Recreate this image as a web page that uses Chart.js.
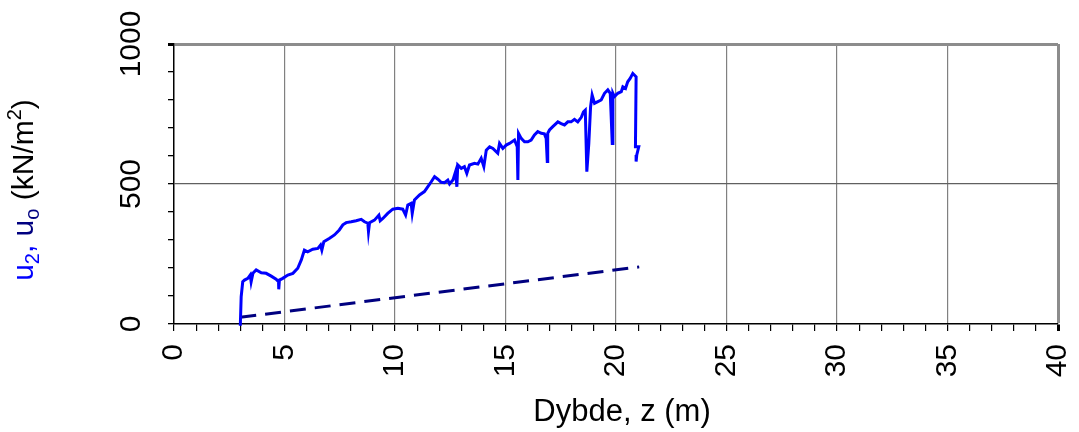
<!DOCTYPE html>
<html>
<head>
<meta charset="utf-8">
<script src="https://cdn.jsdelivr.net/npm/chart.js@4/dist/chart.umd.min.js"></script>
<style>
  html, body { margin: 0; padding: 0; background: #fff; }
  #wrap { width: 1079px; height: 432px; }
</style>
</head>
<body>
<div id="wrap"><canvas id="chart" width="1079" height="432"></canvas></div>
<script>
// measured u2 (solid blue) - depth in m, pressure in kN/m2
const u2Depth = [3.00, 3.04, 3.11, 3.19, 3.34, 3.45, 3.49, 3.57, 3.72, 3.95, 4.17, 4.40, 4.62, 4.73, 4.74, 4.77, 4.92, 5.15, 5.38, 5.60,
  5.76, 5.90, 6.05, 6.28, 6.51, 6.63, 6.69, 6.78, 7.04, 7.26, 7.48, 7.64, 7.79, 8.02, 8.24, 8.47, 8.62, 8.77, 8.80, 8.85,
  9.07, 9.27, 9.33, 9.45, 9.67, 9.90, 10.13, 10.35, 10.48, 10.58, 10.73, 10.78, 10.88, 11.11, 11.33, 11.48, 11.64, 11.79, 11.94, 12.09,
  12.24, 12.39, 12.47, 12.62, 12.74, 12.80, 12.84, 13.00, 13.14, 13.25, 13.37, 13.60, 13.75, 13.90, 14.02, 14.13, 14.28, 14.43, 14.65, 14.73,
  14.88, 15.03, 15.18, 15.41, 15.53, 15.56, 15.59, 15.71, 15.86, 16.01, 16.16, 16.31, 16.46, 16.62, 16.76, 16.84, 16.89, 16.91, 16.99, 17.14,
  17.37, 17.52, 17.67, 17.82, 17.97, 18.12, 18.27, 18.43, 18.53, 18.61, 18.68, 18.77, 18.85, 18.92, 19.03, 19.18, 19.33, 19.48, 19.63, 19.74,
  19.83, 19.86, 19.93, 20.08, 20.24, 20.31, 20.43, 20.53, 20.64, 20.76, 20.91, 20.88, 21.03, 20.94, 20.91];
const u2Pressure = [-6, 98, 151, 157, 163, 175, 151, 181, 193, 183, 181, 171, 160, 151, 124, 157, 163, 175, 181, 199,
  229, 264, 258, 267, 270, 282, 264, 294, 306, 318, 336, 354, 362, 365, 369, 374, 365, 360, 330, 362,
  371, 389, 369, 377, 395, 410, 413, 410, 389, 425, 431, 395, 443, 461, 473, 490, 508, 526, 517, 506,
  505, 514, 500, 514, 544, 490, 568, 556, 562, 538, 568, 574, 571, 592, 562, 621, 633, 627, 610, 645,
  627, 639, 645, 657, 633, 514, 681, 663, 651, 651, 657, 675, 687, 681, 679, 663, 580, 681, 693, 705,
  722, 716, 711, 722, 722, 731, 722, 738, 758, 764, 544, 645, 776, 818, 788, 794, 800, 824, 836, 824,
  645, 824, 812, 824, 830, 847, 841, 865, 877, 895, 883, 633, 633, 604, 580];

// hydrostatic u0 (dashed navy)
const u0Depth = [3.0, 21.05];
const u0Pressure = [24, 204];

const yMajor = [0, 500, 1000];

const FONT = "'Liberation Sans', Arial, sans-serif";

function toPoints(xs, ys) {
    return xs.map((x, i) => ({ x: x, y: ys[i] }));
}

// y tick labels, axis titles (rotated / sub- and superscripts)
const textPlugin = {
    id: 'textPlugin',
    afterDraw(chart) {
        const ctx = chart.ctx;
        const ys = chart.scales.y;
        const xs = chart.scales.x;
        ctx.save();
        ctx.fillStyle = '#000';
        ctx.font = '30px ' + FONT;
        yMajor.forEach(v => {
            ctx.save();
            ctx.translate(140, ys.getPixelForValue(v));
            ctx.rotate(-Math.PI / 2);
            ctx.textAlign = 'center';
            ctx.textBaseline = 'alphabetic';
            ctx.fillText(String(v), 0, 0);
            ctx.restore();
        });

        // x title
        ctx.font = '31px ' + FONT;
        ctx.textAlign = 'center';
        ctx.textBaseline = 'alphabetic';
        ctx.fillText('Dybde, z (m)', (xs.left + xs.right) / 2 + 6, 421);

        // y title with sub/superscripts
        const parts = [
            { t: 'u', c: '#0000ff', s: 30, dy: 0 },
            { t: '2', c: '#0000ff', s: 20, dy: 6 },
            { t: ', ', c: '#0000ff', s: 30, dy: 0 },
            { t: 'u', c: '#000080', s: 30, dy: 0 },
            { t: 'o', c: '#000080', s: 20, dy: 6 },
            { t: ' (kN/m', c: '#000', s: 30, dy: 0 },
            { t: '2', c: '#000', s: 20, dy: -12 },
            { t: ')', c: '#000', s: 30, dy: 0 }
        ];
        let total = 0;
        parts.forEach(p => {
            ctx.font = p.s + 'px ' + FONT;
            p.w = ctx.measureText(p.t).width;
            total += p.w;
        });
        ctx.translate(33, (ys.top + ys.bottom) / 2 + 6);
        ctx.rotate(-Math.PI / 2);
        ctx.textAlign = 'left';
        let pos = -total / 2;
        parts.forEach(p => {
            ctx.font = p.s + 'px ' + FONT;
            ctx.fillStyle = p.c;
            ctx.fillText(p.t, pos, p.dy);
            pos += p.w;
        });
        ctx.restore();
    }
};

new Chart(document.getElementById('chart'), {
    type: 'line',
    data: {
        datasets: [{
            label: 'u2',
            data: toPoints(u2Depth, u2Pressure),
            borderColor: '#0000ff',
            borderWidth: 3,
            pointRadius: 0,
            tension: 0,
            fill: false,
            clip: false
        }, {
            label: 'u0',
            data: toPoints(u0Depth, u0Pressure),
            borderColor: '#000080',
            borderWidth: 3,
            borderDash: [16, 9],
            pointRadius: 0,
            fill: false
        }]
    },
    options: {
        responsive: false,
        animation: false,
        layout: { padding: { left: 0, top: 44, right: 21, bottom: 0 } },
        plugins: {
            legend: { display: false },
            tooltip: { enabled: false }
        },
        scales: {
            x: {
                type: 'linear',
                min: 0,
                max: 40,
                afterFit: s => { s.height = 108; s.paddingLeft = 0; s.paddingRight = 0; },
                ticks: {
                    stepSize: 1,
                    autoSkip: false,
                    minRotation: 90,
                    maxRotation: 90,
                    padding: 13,
                    color: '#000',
                    font: { family: FONT, size: 30 },
                    callback: v => (v % 5 === 0 ? String(v) : '')
                },
                grid: {
                    drawTicks: true,
                    tickLength: 7,
                    tickColor: '#000',
                    color: c => {
                        if (!c.tick || c.tick.value === 0 || c.tick.value % 5 !== 0) return 'rgba(0,0,0,0)';
                        return c.tick.value === 40 ? '#8c8c8c' : '#808080';
                    },
                    lineWidth: c => (c.tick && c.tick.value === 40 ? 3 : 1.2)
                },
                border: { color: '#000', width: 1.5 }
            },
            y: {
                type: 'linear',
                min: 0,
                max: 1000,
                afterFit: s => { s.width = 174; s.paddingTop = 0; s.paddingBottom = 0; },
                ticks: {
                    stepSize: 100,
                    autoSkip: false,
                    color: '#000',
                    font: { family: FONT, size: 30 },
                    callback: () => ''
                },
                grid: {
                    drawTicks: true,
                    tickLength: 6,
                    tickColor: '#000',
                    color: c => {
                        if (!c.tick) return 'rgba(0,0,0,0)';
                        if (c.tick.value === 1000) return '#8c8c8c';
                        if (c.tick.value === 500) return '#606060';
                        return 'rgba(0,0,0,0)';
                    },
                    lineWidth: c => (c.tick && c.tick.value === 1000 ? 3 : 1.3)
                },
                border: { color: '#000', width: 1.5 }
            }
        }
    },
    plugins: [textPlugin]
});
</script>
</body>
</html>
